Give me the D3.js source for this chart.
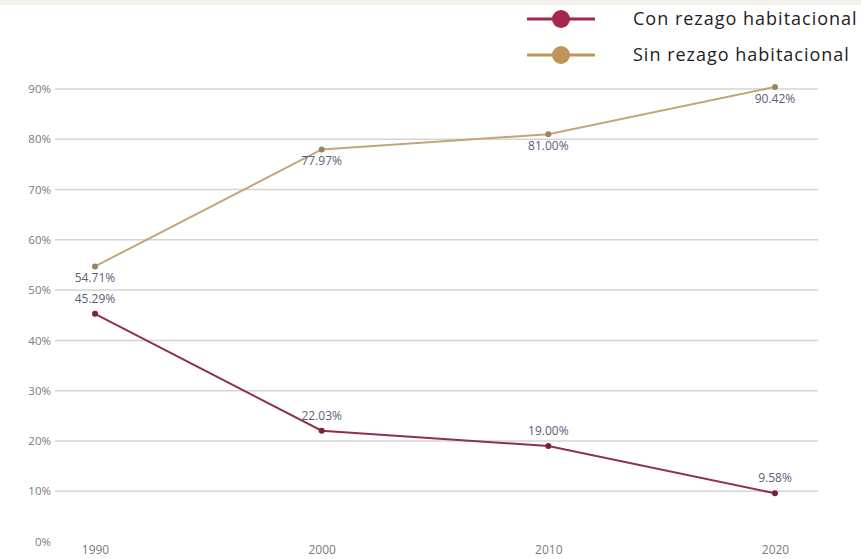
<!DOCTYPE html>
<html><head><meta charset="utf-8">
<script src="https://cdn.jsdelivr.net/npm/d3@7"></script>
<style>body{margin:0;background:#fff}svg{display:block}</style>
</head><body>
<svg id="c" width="861" height="559"></svg>
<script>
const years = ["1990","2000","2010","2020"];
const conRezago = [45.29, 22.03, 19.00, 9.58];
const sinRezago = [54.71, 77.97, 81.00, 90.42];
const yTicks = [0,10,20,30,40,50,60,70,80,90];
const seriesNames = ["Con rezago habitacional","Sin rezago habitacional"];

const svg = d3.select("#c");
svg.append("rect").attr("x",0).attr("y",0).attr("width",861).attr("height",5).attr("fill","#f5f1ec");

const x = d3.scalePoint().domain(years).range([95,775]);
const y = d3.scaleLinear().domain([0,90]).range([541.5,89]);

const font = "'Open Sans', sans-serif";
// grid
const yAxis = d3.axisLeft(y).tickValues(yTicks).tickFormat(d=>d+"%").tickSize(0).tickPadding(4);
const ga = svg.append("g").attr("transform","translate(55,0)").call(yAxis);
ga.select(".domain").remove();
ga.selectAll("text").attr("font-family",font).attr("font-size",11.5).attr("fill","#7a7a7a");
svg.append("g").selectAll("line").data(yTicks.filter(d=>d>0)).join("line")
  .attr("x1",55).attr("x2",818).attr("y1",d=>y(d)).attr("y2",d=>y(d))
  .attr("stroke","#d4d4d4").attr("stroke-width",1.5);

const xAxis = d3.axisBottom(x).tickSize(0).tickPadding(0);
const gx = svg.append("g").attr("transform","translate(0,545)").call(xAxis);
gx.select(".domain").remove();
gx.selectAll("text").attr("font-family",font).attr("font-size",12).attr("fill","#7a7a7a");

const series = [
  {vals: sinRezago, line:"#c4a57a", dot:"#9b8560", above:false},
  {vals: conRezago, line:"#8e3050", dot:"#7a1f3d", above:true}
];
const lineGen = d3.line().x((d,i)=>x(years[i])).y(d=>y(d));
series.forEach(s=>{
  svg.append("path").datum(s.vals).attr("d",lineGen).attr("fill","none")
    .attr("stroke",s.line).attr("stroke-width",2);
  svg.append("g").selectAll("circle").data(s.vals).join("circle")
    .attr("cx",(d,i)=>x(years[i])).attr("cy",d=>y(d)).attr("r",3).attr("fill",s.dot);
  svg.append("g").selectAll("text").data(s.vals).join("text")
    .attr("x",(d,i)=>x(years[i])).attr("y",d=>y(d)+(s.above?-11:16))
    .attr("text-anchor","middle").attr("font-family",font).attr("font-size",12)
    .attr("fill","#5a6078").text(d=>d.toFixed(2)+"%");
});

// legend
const legCol = ["#a3284b","#c0955a"];
seriesNames.forEach((n,i)=>{
  const ly = 19 + i*36;
  const g = svg.append("g");
  g.append("line").attr("x1",527).attr("x2",595).attr("y1",ly).attr("y2",ly).attr("stroke",legCol[i]).attr("stroke-width",3);
  g.append("circle").attr("cx",561).attr("cy",ly).attr("r",9).attr("fill",legCol[i]);
  g.append("text").attr("x",633).attr("y",ly+6).attr("font-family",font).attr("font-size",18)
    .attr("letter-spacing",1.0).attr("fill","#222").text(n);
});
</script>
</body></html>
